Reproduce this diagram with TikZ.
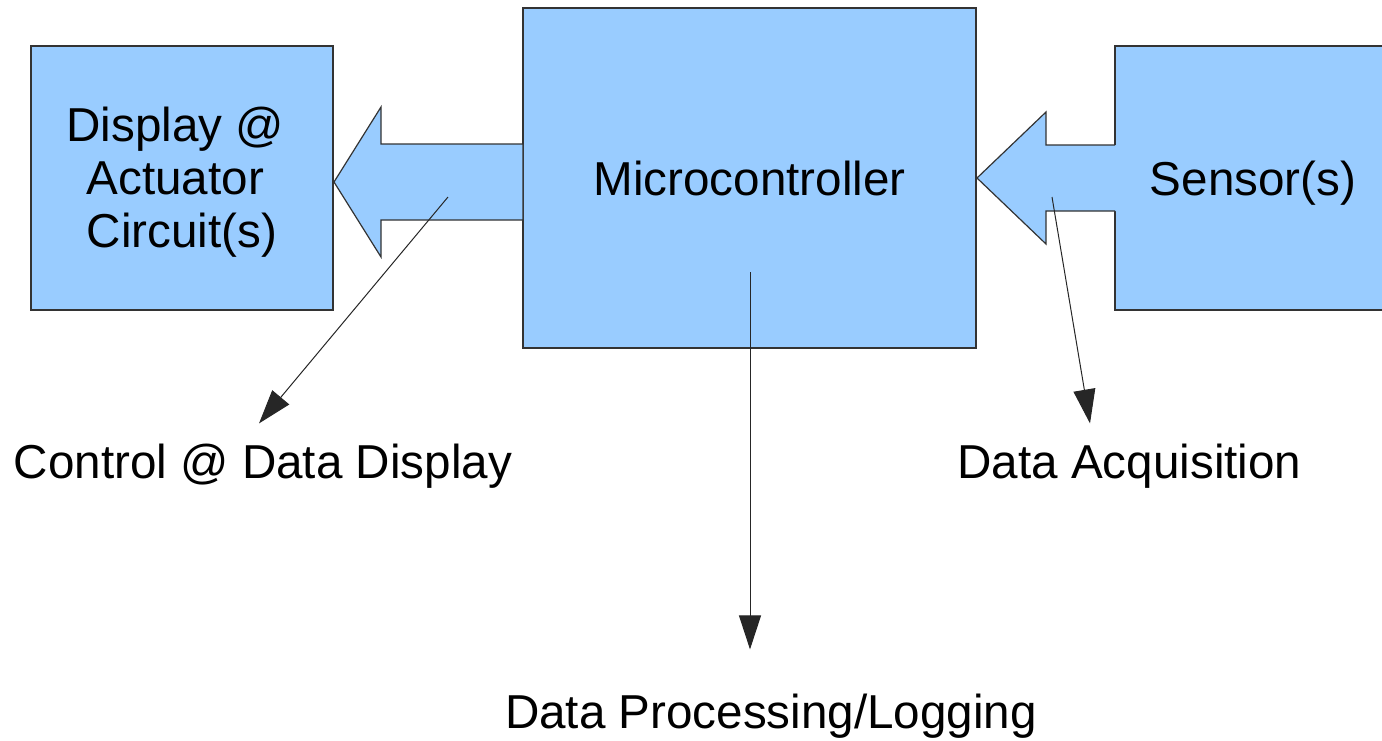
\documentclass[tikz,border=0pt]{standalone}
\usepackage{fontspec}
\setmainfont{Liberation Sans}
\usepackage{tikz}
\usetikzlibrary{arrows.meta}
\definecolor{boxblue}{RGB}{153,204,255}
\definecolor{edgegray}{RGB}{51,51,51}

\begin{document}
\begin{tikzpicture}[x=0.5pt, y=-0.5pt,
    every node/.style={font=\fontsize{23.8}{26.5}\selectfont},
    block/.style={draw=edgegray, fill=boxblue, line width=0.6pt, inner sep=0pt, align=center},
    pointer/.style={draw=black!85, line width=0.5pt, -{Triangle[length=17pt,width=11pt]}},
    caption/.style={inner sep=0pt}]
  \clip (0,0) rectangle (1382,740);
  % Blocks
  \node[block, minimum width=151pt, minimum height=132pt] (disp) at (182,178) {};
  \node[align=center, inner sep=0pt] (disptext) at ([yshift=-2pt]disp.center)
    {Display @\makebox[.278em]{}\\Actuator\makebox[.278em]{}\\Circuit(s)};
  \node[block, minimum width=226.5pt, minimum height=170pt] (mcu) at (749.5,178) {Microcontroller};
  \node[block, minimum width=138pt, minimum height=132pt, text depth=0pt] (sens) at (1253,178) {Sensor(s)};
  % Fat arrows between the blocks
  \filldraw[fill=boxblue, draw=edgegray, line width=0.6pt]
    (523,144) -- (381,144) -- (381,107) -- (334,182) -- (381,257) -- (381,220) -- (523,220) -- cycle;
  \fill[boxblue] (1117,145) -- (1046,145) -- (1046,112) -- (977,178) -- (1046,244) -- (1046,211) -- (1117,211) -- cycle;
  \draw[edgegray, line width=0.6pt]
    (1115,145) -- (1046,145) -- (1046,112) -- (977,178) -- (1046,244) -- (1046,211) -- (1115,211);
  % Captions
  \coordinate (ctlsrc) at (448,197);
  \coordinate (logsrc) at (750,272);
  \coordinate (acqsrc) at (1052,197);
  \node[caption] (ctrl) at (263,466) {Control @ Data Display};
  \node[caption] (acq) at (1129.5,466) {Data Acquisition};
  \node[caption] (logging) at (771,716) {Data Processing/Logging};
  \draw[pointer] (ctlsrc) -- ([xshift=-2pt,yshift=10pt]ctrl.north);
  \draw[pointer] (logsrc) -- ([xshift=-10.5pt,yshift=22pt]logging.north);
  \draw[pointer] (acqsrc) -- ([xshift=-19.75pt,yshift=10pt]acq.north);
\end{tikzpicture}
\end{document}
